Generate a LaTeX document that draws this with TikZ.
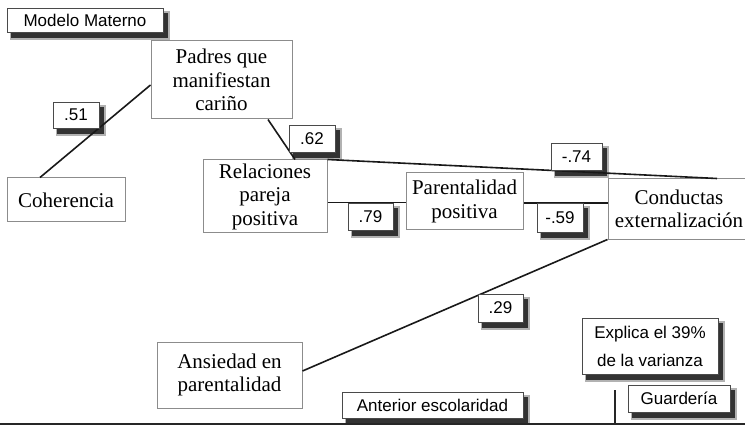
\documentclass[tikz,border=0pt]{standalone}
\usepackage{fontspec}
\setmainfont{Liberation Serif}
\setsansfont{Liberation Sans}
\usepackage{tikz}
\usetikzlibrary{positioning, calc, backgrounds}
\definecolor{bxgray}{HTML}{8C8C8C}
\definecolor{tggray}{HTML}{4A4A4A}
\tikzset{
  var/.style={rectangle, draw=bxgray, line width=1pt, fill=white,
    align=center, inner sep=0pt, font=\fontsize{21}{23.5}\selectfont},
  tag/.style={rectangle, draw=tggray, line width=0.8pt, fill=white,
    align=center, inner sep=0pt, font=\sffamily\fontsize{17}{28}\selectfont},
  shd/.style={fill=black!#1},
  lnk/.style={line width=1.6pt, black!90},
  rule/.style={line width=2.2pt, black!85},
}

\begin{document}
\begin{tikzpicture}[x=1pt, y=-1pt]
\useasboundingbox (0,0) rectangle (745,425);

% ---- variables ----
\node[var, minimum width=141, minimum height=78] (padres) at (221.5,80) {Padres que\\manifiestan\\cariño};
\node[var, minimum width=118, minimum height=44] (coh) at (66,200) {Coherencia};
\node[var, minimum width=124, minimum height=73] (rel) at (265,196.5) {Relaciones\\pareja\\positiva};
\node[var, minimum width=117, minimum height=57] (par) at (464.5,201.5) {Parentalidad\\positiva};
\node[var, minimum width=142, minimum height=60] (cond) at (679,209) {Conductas\\externalización};
\node[var, minimum width=145, minimum height=66] (ans) at (229.5,375) {Ansiedad en\\parentalidad};

% ---- paths ----
\draw[lnk] ([xshift=-26pt]coh.north) -- ([yshift=-5pt]padres.west);
\draw[lnk] ([xshift=46.5pt]padres.south) -- ([xshift=30pt]rel.north);
\draw[lnk] (rel.north east) -- ([xshift=38pt]cond.north);
\draw[lnk] ([yshift=-6pt]rel.east) -- ([yshift=-6pt]rel.east -| par.west);
\draw[lnk] ([yshift=-1.5pt]par.east) -- ([yshift=-1.5pt]par.east -| cond.west);
\draw[lnk] ([yshift=4pt]ans.east) -- (cond.south west);

% ---- coefficients ----
\node[tag, minimum width=46, minimum height=26] (c51) at (76,115) {.51};
\node[tag, minimum width=46, minimum height=27] (c62) at (312,138.5) {.62};
\node[tag, minimum width=51, minimum height=27] (c74) at (576.5,156.5) {-.74};
\node[tag, minimum width=45, minimum height=27] (c79) at (370.5,216.5) {.79};
\node[tag, minimum width=46, minimum height=29] (c59) at (560,217.5) {-.59};
\node[tag, minimum width=45, minimum height=28] (c29) at (500.5,308) {.29};

% ---- notes ----
\node[tag, minimum width=156, minimum height=24] (mm) at (85,20) {Modelo Materno};
\node[tag, minimum width=136, minimum height=56] (expl) at (650,346) {Explica el 39\%\\de la varianza};
\node[tag, minimum width=102, minimum height=27] (guard) at (679,398.5) {Guardería};
\node[tag, minimum width=181, minimum height=26] (ant) at (432.5,405) {Anterior escolaridad};

% ---- shadows ----
\begin{scope}[on background layer]
\foreach \n in {c51,c62,c74,c79,c59,c29,mm,expl,guard,ant} {
  \fill[shd=30] ([shift={(3pt,-7.5pt)}]\n.south west) rectangle ([shift={(7pt,-3pt)}]\n.north east);
  \fill[shd=80] ([shift={(4.5pt,-5.5pt)}]\n.south west) rectangle ([shift={(5pt,-5pt)}]\n.north east);
}
\end{scope}

% ---- bottom rule ----
\coordinate (bl) at (0,424);
\coordinate (br) at (745,424);
\coordinate (vt) at (615,390);
\draw[rule] (bl) -- (br);
\draw[rule] (vt) -- (vt |- bl);

\end{tikzpicture}
\end{document}
